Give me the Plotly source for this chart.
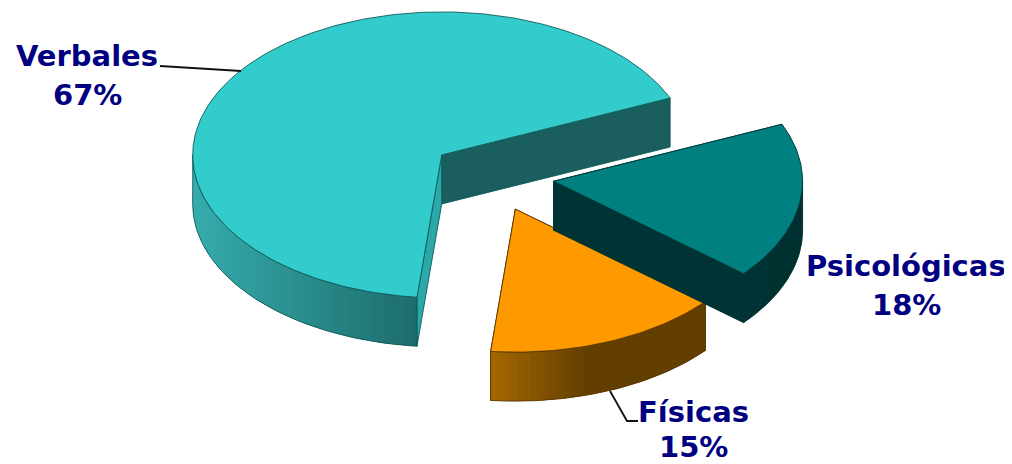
import math
import plotly.graph_objects as go

LABELS = ["Verbales", "Físicas", "Psicológicas"]
VALUES = [66.9, 15.4, 17.7]
PERCENT_TEXT = ["67%", "15%", "18%"]
TOP_COLORS = ["#33cccc", "#ff9900", "#008080"]
EDGE_COLORS = ["#0f5a5a", "#5a3800", "#003333"]
# outer wall shading: colour at the left end and the right end of the visible wall
SIDE_FROM = [(54, 172, 172), (165, 104, 0), (0, 52, 52)]
SIDE_TO = [(30, 108, 108), (98, 62, 0), (0, 48, 48)]
SIDE_HOLD = [1.0, 0.45, 1.0]  # share of the wall over which the shade changes
WALL_START_COLORS = ["#1a5e5e", "#5a3800", "#003333"]
WALL_END_COLORS = ["#2ca8a8", "#5a3800", "#003333"]

LABEL_POS = [(87, 56, 95), (693, 412, 447), (906, 266, 305)]  # x, y line 1, y line 2
TEXT_COLOR = "#000080"
FONT = "DejaVu Sans"
FONT_SIZE = 29

# projection of the tilted pie onto the page
CX, CY = 492, 176
RX, RY = 249, 143
DEPTH = 49
EXPLODE = 0.25
START_DEG = 264.3  # where "Físicas" begins, counter-clockwise


def pt(cx, cy, deg, r=1.0, dz=0.0):
    a = math.radians(deg)
    return cx + r * RX * math.cos(a), cy - r * RY * math.sin(a) + dz


def poly(points, fill, line=None, width=0.9):
    xs = [p[0] for p in points]
    ys = [p[1] for p in points]
    return go.Scatter(
        x=xs + xs[:1], y=ys + ys[:1], mode="lines", fill="toself", fillcolor=fill,
        line=dict(color=line or fill, width=width), hoverinfo="skip", showlegend=False,
    )


total = sum(VALUES)
# angular extents: Físicas from START_DEG, then Psicológicas, then Verbales
spans = {}
ang = START_DEG
for i in (1, 2, 0):
    sp = 360 * VALUES[i] / total
    spans[i] = (ang, ang + sp)
    ang += sp

fig = go.Figure()

for i in (0, 1, 2):
    a0, a1 = spans[i]
    mid = math.radians((a0 + a1) / 2)
    ox = CX + EXPLODE * RX * math.cos(mid)
    oy = CY - EXPLODE * RY * math.sin(mid)
    edge = EDGE_COLORS[i]

    # flat cut walls
    for deg, col in ((a0, WALL_START_COLORS[i]), (a1, WALL_END_COLORS[i])):
        fig.add_trace(poly([(ox, oy), pt(ox, oy, deg), pt(ox, oy, deg, dz=DEPTH), (ox, oy + DEPTH)], col, edge))

    # visible outer wall: the part of the rim on the front half
    vis = []
    for k in (-1, 0, 1):
        lo, hi = max(a0, 180 + 360 * k), min(a1, 360 + 360 * k)
        if lo < hi:
            vis.append((lo, hi))
    for lo, hi in vis:
        n = max(2, int((hi - lo) / 1.5))
        step = (hi - lo) / n
        x_lo = pt(ox, oy, lo)[0]
        x_hi = pt(ox, oy, hi)[0]
        for s in range(n):
            d0 = lo + step * s
            d1 = min(hi, d0 + 2 * step)  # overlap the next band so no seam shows
            t = (pt(ox, oy, d0 + step / 2)[0] - x_lo) / (x_hi - x_lo)
            t = min(1.0, t / SIDE_HOLD[i])
            rgb = [round(SIDE_FROM[i][c] + (SIDE_TO[i][c] - SIDE_FROM[i][c]) * t) for c in range(3)]
            col = f"rgb({rgb[0]},{rgb[1]},{rgb[2]})"
            band = [pt(ox, oy, d0 + (d1 - d0) * j / 3) for j in range(4)]
            band += [pt(ox, oy, d1 - (d1 - d0) * j / 3, dz=DEPTH) for j in range(4)]
            fig.add_trace(poly(band, col, col, 0))
        fine = [lo + (hi - lo) * s / 60 for s in range(61)]
        outline = [pt(ox, oy, d) for d in fine] + [pt(ox, oy, d, dz=DEPTH) for d in reversed(fine)]
        fig.add_trace(go.Scatter(
            x=[p[0] for p in outline] + [outline[0][0]],
            y=[p[1] for p in outline] + [outline[0][1]],
            mode="lines", line=dict(color=edge, width=0.9), hoverinfo="skip", showlegend=False,
        ))

    # top face
    n = int(a1 - a0)
    arc = [pt(ox, oy, a0 + (a1 - a0) * s / n) for s in range(n + 1)]
    fig.add_trace(poly([(ox, oy)] + arc, TOP_COLORS[i], edge))

for i, (x, y1, y2) in enumerate(LABEL_POS):
    for text, y in ((LABELS[i], y1), (PERCENT_TEXT[i], y2)):
        fig.add_annotation(
            x=x, y=y, xref="x", yref="y", text=f"<b>{text}</b>", showarrow=False,
            xanchor="center", yanchor="middle",
            font=dict(family=FONT, size=FONT_SIZE, color=TEXT_COLOR),
        )

# leader lines
fig.add_shape(type="path", path="M 160 66 L 241 71", xref="x", yref="y", line=dict(color="#111111", width=1.8))
fig.add_shape(type="path", path="M 610 391 L 627 421 L 638 421", xref="x", yref="y", line=dict(color="#111111", width=1.8))

# the page keeps an 8 px body margin, so the plot area starts at (8, 8)
fig.update_layout(
    width=1004, height=456, margin=dict(l=0, r=0, t=0, b=0),
    paper_bgcolor="white", plot_bgcolor="white", showlegend=False,
    xaxis=dict(range=[8, 1012], visible=False, fixedrange=True),
    yaxis=dict(range=[464, 8], visible=False, fixedrange=True),
)
fig.write_html("out.html")
